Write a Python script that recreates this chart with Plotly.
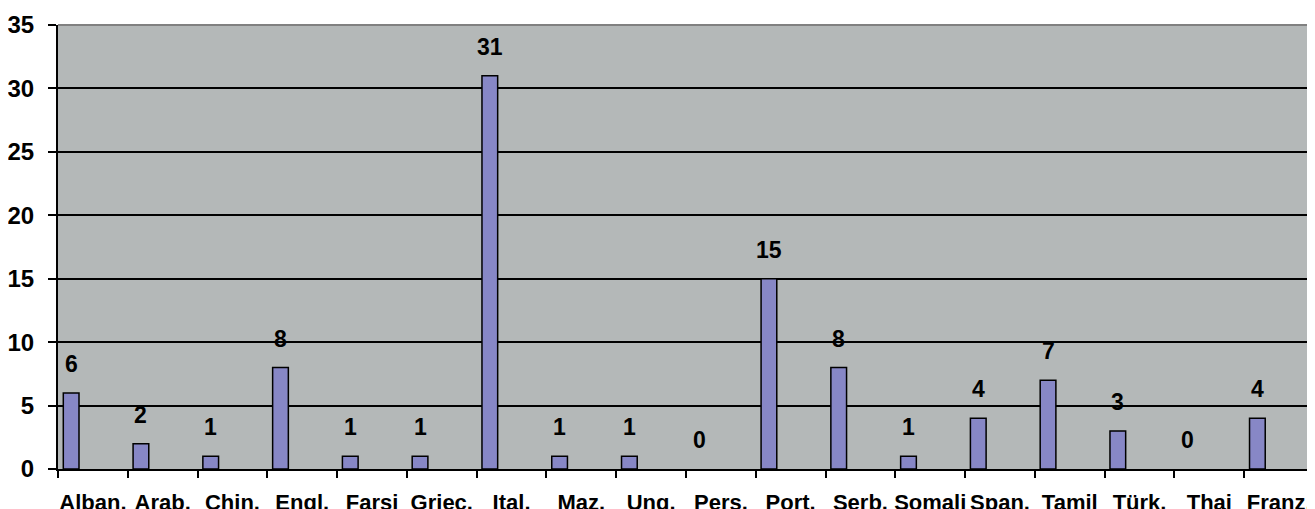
import plotly.graph_objects as go

# languages and counts
languages = ["Alban.", "Arab.", "Chin.", "Engl.", "Farsi", "Griec.", "Ital.", "Maz.", "Ung.",
             "Pers.", "Port.", "Serb.", "Somali", "Span.", "Tamil", "Türk.", "Thai", "Franz."]
counts = [6, 2, 1, 8, 1, 1, 31, 1, 1, 0, 15, 8, 1, 4, 7, 3, 0, 4]
y_ticks = [0, 5, 10, 15, 20, 25, 30, 35]

FONT = "Liberation Sans, Arial, sans-serif"
BAR_OFFSET = -0.424
BAR_WIDTH = 0.225

positions = list(range(len(languages)))

fig = go.Figure()
fig.add_trace(go.Bar(x=positions,
                     y=counts,
                     offset=BAR_OFFSET,
                     width=BAR_WIDTH,
                     marker=dict(color="#8787C6",
                                 line=dict(color="black",
                                           width=[1.5 if v > 0 else 0 for v in counts])),
                     hoverinfo="skip"))

# value labels above each bar
for pos, value in zip(positions, counts):
    fig.add_annotation(x=pos + BAR_OFFSET + BAR_WIDTH / 2, y=value,
                       text=f"<b>{value}</b>", showarrow=False,
                       yanchor="bottom", yshift=14,
                       font=dict(family=FONT, size=23, color="black"))

# the page has an 8px body margin, so the figure is sized to end at the window edge
fig.update_layout(width=1307, height=501,
                  margin=dict(l=50, r=1, t=17, b=40),
                  paper_bgcolor="white",
                  plot_bgcolor="#B4B8B8",
                  showlegend=False,
                  font=dict(family=FONT, color="black"),
                  shapes=[dict(type="line", xref="paper", yref="paper", x0=0, x1=1, y0=1, y1=1,
                               line=dict(color="#808080", width=2)),
                          dict(type="line", xref="paper", yref="paper", x0=1, x1=1, y0=0, y1=1,
                               line=dict(color="#9A9E9E", width=1))])

fig.update_xaxes(range=[-0.5, len(languages) - 0.5],
                 automargin=False,
                 tickmode="array", tickvals=positions,
                 ticktext=[f"<b>{name}</b>" for name in languages],
                 tickfont=dict(family=FONT, size=22, color="black"),
                 tickangle=0,
                 ticks="", ticklabelstandoff=13,
                 showgrid=False, zeroline=False,
                 showline=True, linecolor="black", linewidth=2,
                 minor=dict(tick0=-0.5, dtick=1, ticks="outside", ticklen=7,
                            tickcolor="black", tickwidth=2, showgrid=False))

fig.update_yaxes(range=[0, 35], tickmode="array", tickvals=y_ticks,
                 automargin=False,
                 ticktext=[f"<b>{t}</b>" for t in y_ticks],
                 tickfont=dict(family=FONT, size=24, color="black"),
                 ticks="outside", ticklen=8, tickcolor="black", tickwidth=2,
                 ticklabelstandoff=9,
                 showgrid=True, gridcolor="black", gridwidth=2,
                 zeroline=False,
                 showline=True, linecolor="black", linewidth=2)

fig.write_html("out.html")
